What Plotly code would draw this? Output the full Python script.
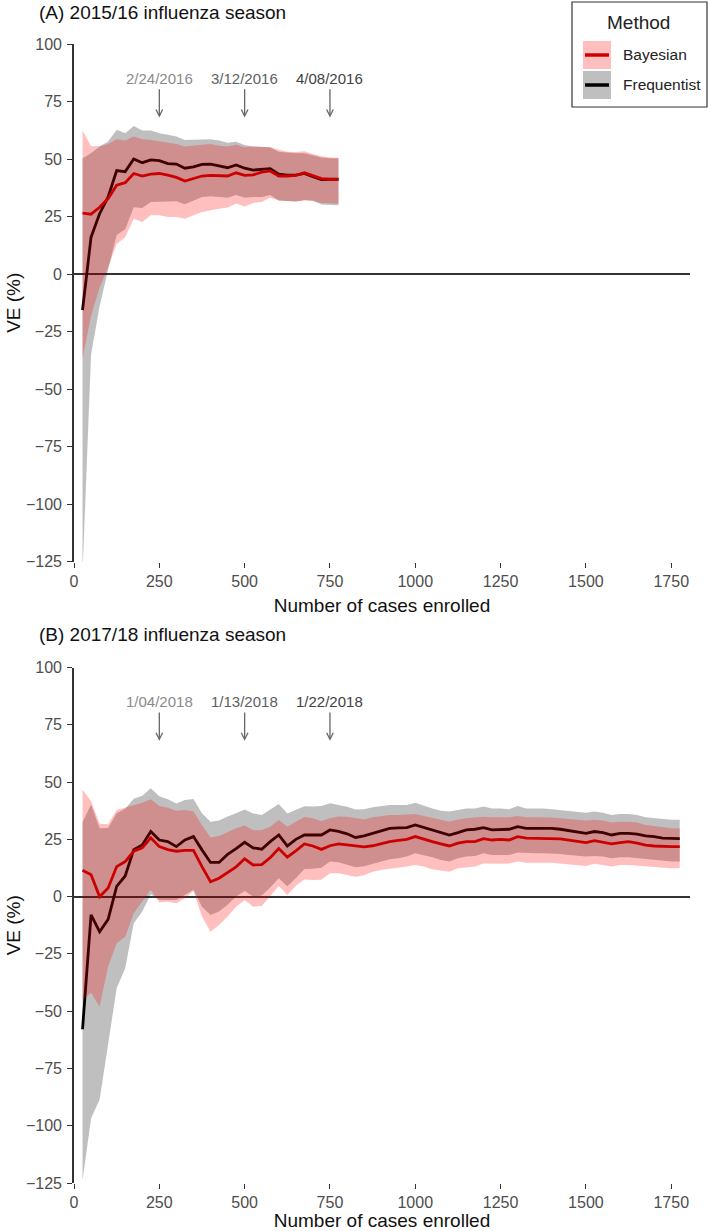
import plotly.graph_objects as go

# ---------------- data ----------------
CASES_A = [25, 50, 75, 100, 125, 150, 175, 200, 225, 250, 275, 300, 325, 350, 375, 400,
           425, 450, 475, 500, 525, 550, 575, 600, 625, 650, 675, 700, 725, 750, 775]

A_FREQ_EST = [-15.7, 16.0, 26.2, 33.5, 45.0, 44.5, 50.0, 48.4, 49.6, 49.3, 48.0, 47.8, 46.0, 46.6,
              47.7, 47.8, 47.0, 46.2, 47.4, 46.0, 45.2, 45.6, 45.8, 43.4, 43.0, 43.0, 43.7, 42.3,
              41.1, 41.2, 41.2]
A_FREQ_LO = [-130.0, -35.0, -14.0, 2.0, 17.0, 19.5, 29.0, 28.7, 31.3, 31.6, 31.6, 31.6, 30.3, 32.0,
             33.5, 33.8, 33.5, 33.2, 34.3, 33.2, 33.5, 33.5, 34.3, 32.0, 31.6, 31.5, 32.2, 31.9,
             30.2, 29.9, 29.9]
A_FREQ_HI = [50.3, 52.5, 55.4, 57.6, 62.7, 61.2, 64.4, 62.4, 62.4, 61.2, 60.5, 59.8, 58.3, 58.3,
             58.6, 58.6, 58.0, 57.1, 57.5, 56.1, 55.4, 55.4, 55.1, 53.2, 52.8, 52.5, 52.5, 51.7,
             50.7, 50.3, 50.3]
A_BAYES_EST = [26.5, 26.0, 29.0, 32.8, 38.6, 39.7, 43.7, 42.6, 43.4, 43.7, 43.0, 42.0, 40.4, 41.5,
               42.6, 42.9, 42.9, 42.6, 44.0, 42.9, 43.1, 44.3, 44.8, 42.6, 42.6, 42.9, 44.0, 42.7,
               41.5, 41.1, 41.1]
A_BAYES_LO = [-37.0, -18.0, -6.0, 3.0, 13.0, 16.0, 24.0, 22.6, 25.5, 25.5, 24.8, 24.8, 24.0, 25.5,
              27.0, 27.7, 28.4, 28.9, 30.6, 29.4, 30.9, 31.3, 33.2, 32.0, 31.6, 31.5, 32.0, 31.8,
              30.9, 30.6, 30.6]
A_BAYES_HI = [62.4, 55.5, 55.5, 56.5, 58.6, 58.0, 59.8, 58.6, 58.3, 57.8, 57.2, 56.5, 55.4, 55.8,
              56.2, 56.5, 55.8, 55.4, 56.2, 55.1, 55.4, 55.1, 55.1, 54.0, 53.2, 53.0, 53.4, 52.2,
              51.2, 50.6, 50.5]

CASES_B = [25, 50, 75, 100, 125, 150, 175, 200, 225, 250, 275, 300, 325, 350, 375, 400, 425, 450,
           475, 500, 525, 550, 575, 600, 625, 650, 675, 700, 725, 750, 775, 800, 825, 850, 875,
           900, 925, 950, 975, 1000, 1025, 1050, 1075, 1100, 1125, 1150, 1175, 1200, 1225, 1250,
           1275, 1300, 1325, 1350, 1375, 1400, 1425, 1450, 1475, 1500, 1525, 1550, 1575, 1600,
           1625, 1650, 1675, 1700, 1725, 1750, 1775]

B_FREQ_EST = [-57.9, -8.0, -15.3, -9.9, 4.5, 9.0, 20.5, 22.5, 28.4, 24.7,
              24.0, 21.8, 24.7, 26.2, 20.4, 14.9, 14.9, 18.4, 20.9, 23.7,
              21.3, 20.7, 24.0, 26.9, 22.1, 25.0, 26.9, 26.9, 26.9, 29.1,
              28.5, 27.4, 25.8, 26.5, 27.6, 28.7, 29.8, 30.0, 30.1, 31.3,
              30.2, 28.8, 27.9, 26.9, 27.9, 29.1, 29.4, 30.1, 29.1, 29.4,
              29.4, 30.5, 29.8, 29.8, 29.8, 29.8, 29.4, 28.8, 28.2, 27.6,
              28.4, 27.9, 26.9, 27.6, 27.6, 27.3, 26.5, 26.2, 25.5, 25.3,
              25.3]
B_FREQ_LO = [-124.0, -96.7, -88.7, -65.4, -40.0, -31.3, -11.6, -6.5, 1.0, -1.5,
             -1.5, -1.5, 0.7, 3.0, -4.4, -8.0, -6.5, -3.6, 0.0, 2.5,
             0.0, 0.5, 4.0, 8.0, 4.5, 8.0, 12.0, 12.2, 12.6, 15.3,
             15.0, 13.8, 12.8, 13.2, 14.3, 15.3, 16.3, 16.7, 17.5, 18.9,
             18.2, 17.2, 16.0, 15.3, 16.7, 17.5, 17.7, 18.9, 18.2, 18.2,
             18.2, 19.2, 18.9, 18.9, 18.9, 18.9, 18.6, 18.2, 17.7, 17.5,
             17.7, 17.5, 16.7, 17.2, 17.2, 16.7, 16.3, 16.0, 15.7, 15.3,
             15.3]
B_FREQ_HI = [32.5, 40.2, 29.8, 30.0, 36.4, 38.3, 42.7, 44.0, 47.3, 43.8,
             42.5, 40.6, 42.2, 42.6, 36.4, 32.7, 33.2, 35.0, 36.4, 38.0,
             36.3, 35.6, 38.0, 40.4, 36.3, 37.8, 39.4, 39.3, 39.6, 40.7,
             40.0, 39.2, 38.0, 38.1, 39.0, 39.6, 40.0, 40.0, 40.0, 41.0,
             39.6, 38.5, 37.5, 37.1, 37.8, 38.5, 38.5, 39.3, 38.5, 38.5,
             38.1, 39.6, 38.5, 38.5, 38.5, 38.1, 37.8, 37.5, 37.1, 36.6,
             37.1, 36.6, 35.6, 36.1, 36.1, 35.6, 34.6, 34.2, 33.7, 33.5,
             33.5]
B_BAYES_EST = [11.5, 9.5, 0.0, 3.8, 13.1, 15.3, 19.8, 21.3, 25.7, 21.8,
               20.5, 19.8, 20.2, 20.2, 13.1, 6.5, 8.0, 10.5, 13.0, 16.5,
               13.8, 14.0, 17.0, 21.0, 17.2, 20.0, 23.0, 22.1, 20.6, 22.2,
               23.0, 22.6, 22.2, 21.7, 22.2, 23.2, 24.0, 24.5, 25.0, 26.2,
               25.0, 24.0, 23.0, 22.1, 23.3, 24.0, 24.0, 25.3, 24.7, 25.0,
               24.7, 26.2, 25.5, 25.5, 25.5, 25.5, 25.2, 24.7, 24.0, 23.6,
               24.4, 23.6, 23.0, 23.6, 24.0, 23.3, 22.5, 22.1, 21.8, 21.8,
               21.8]
B_BAYES_LO = [-45.0, -42.0, -48.0, -30.5, -20.4, -17.5, -7.3, -2.2, 3.0, -2.5,
              -2.2, -2.9, -0.7, 2.5, -8.7, -15.3, -12.4, -8.7, -4.4, -1.5,
              -4.4, -4.1, 0.3, 4.6, 0.7, 4.7, 7.5, 7.3, 7.4, 10.2,
              10.2, 9.5, 8.7, 9.3, 10.9, 11.6, 12.4, 12.6, 13.1, 13.8,
              13.1, 11.9, 11.3, 10.9, 12.4, 12.8, 13.1, 14.5, 14.3, 14.3,
              14.5, 15.3, 14.8, 14.8, 14.8, 14.8, 14.5, 14.3, 13.8, 13.4,
              14.3, 13.8, 13.1, 13.8, 13.8, 13.4, 13.1, 12.8, 12.7, 12.4,
              12.4]
B_BAYES_HI = [46.6, 41.6, 31.8, 31.6, 37.8, 38.8, 40.0, 41.0, 42.5, 39.5,
              38.8, 37.5, 37.8, 37.2, 31.2, 25.8, 26.5, 28.3, 29.8, 31.0,
              29.0, 29.0, 30.5, 33.4, 30.5, 32.7, 34.7, 34.2, 33.0, 34.2,
              35.0, 34.9, 34.2, 33.7, 34.6, 35.2, 35.6, 35.6, 35.8, 36.1,
              35.2, 34.2, 33.5, 32.7, 33.7, 34.2, 34.6, 34.9, 34.6, 34.6,
              34.6, 35.2, 34.6, 34.6, 34.6, 34.5, 34.2, 33.7, 33.5, 33.2,
              33.5, 33.2, 32.3, 32.7, 32.7, 32.3, 31.3, 30.8, 30.3, 29.8,
              29.8]

X_TICKS = [0, 250, 500, 750, 1000, 1250, 1500, 1750]
Y_TICKS = [-125, -100, -75, -50, -25, 0, 25, 50, 75, 100]

MARK_X = [250, 500, 750]
MARK_LABELS_A = ["2/24/2016", "3/12/2016", "4/08/2016"]
MARK_LABELS_B = ["1/04/2018", "1/13/2018", "1/22/2018"]
MARK_LABEL_Y = 85
MARK_ARROW_FROM = 81
MARK_ARROW_TO = 68

PANEL_TITLES = ["(A) 2015/16 influenza season", "(B) 2017/18 influenza season"]
METHODS = ["Bayesian", "Frequentist"]

# ---------------- style ----------------
FONT = "Liberation Sans, Arial, Helvetica, sans-serif"
GREY_FILL = "rgba(0,0,0,0.25)"
PINK_FILL = "rgba(255,0,0,0.25)"
RED_LINE = "#BB0000"
BLACK_LINE = "#000000"
MARK_TEXT_COLORS = ["#8a8a8a", "#606060", "#424242"]
ARROW_COLOR = "#666666"

W, H = 709, 1231
ML, MR, MT, MB = 74, 19, 44, 48
PW = W - ML - MR
PH = H - MT - MB


def px_x(p):
    return (p - ML) / PW


def px_y(p):
    return (H - MB - p) / PH


A_DOMAIN = [px_y(561.5), 1.0]
B_DOMAIN = [0.0, px_y(667.5)]

fig = go.Figure()


def add_panel(xs, f_lo, f_hi, f_est, b_lo, b_hi, b_est, xa, ya):
    common = dict(xaxis=xa, yaxis=ya, showlegend=False, hoverinfo="skip")
    fig.add_trace(go.Scatter(x=xs + xs[::-1], y=f_hi + f_lo[::-1], mode="lines",
                             fill="toself", fillcolor=GREY_FILL, line=dict(width=0), **common))
    fig.add_trace(go.Scatter(x=xs, y=f_est, mode="lines",
                             line=dict(color=BLACK_LINE, width=2.8), **common))
    fig.add_trace(go.Scatter(x=xs, y=b_est, mode="lines",
                             line=dict(color=RED_LINE, width=2.8), **common))
    fig.add_trace(go.Scatter(x=xs + xs[::-1], y=b_hi + b_lo[::-1], mode="lines",
                             fill="toself", fillcolor=PINK_FILL, line=dict(width=0), **common))


add_panel(CASES_A, A_FREQ_LO, A_FREQ_HI, A_FREQ_EST, A_BAYES_LO, A_BAYES_HI, A_BAYES_EST, "x", "y")
add_panel(CASES_B, B_FREQ_LO, B_FREQ_HI, B_FREQ_EST, B_BAYES_LO, B_BAYES_HI, B_BAYES_EST, "x2", "y2")

tickfont = dict(family=FONT, size=16, color="#4d4d4d")
titlefont = dict(family=FONT, size=19, color="#111111")


def xaxis_cfg(anchor):
    return dict(domain=[0, 1], anchor=anchor, range=[0, 1805], tickmode="array", tickvals=X_TICKS,
                ticks="outside", ticklen=5, tickwidth=1.4, tickcolor="#333333",
                showline=False, showgrid=False, zeroline=False, tickfont=tickfont,
                ticklabelstandoff=0,
                title=dict(text="Number of cases enrolled", font=titlefont, standoff=9))


def yaxis_cfg(anchor, domain):
    return dict(domain=domain, anchor=anchor, range=[-125, 100], tickmode="array", tickvals=Y_TICKS,
                ticks="outside", ticklen=5, tickwidth=1.4, tickcolor="#333333",
                showline=True, linecolor="#333333", linewidth=1.6, showgrid=False,
                zeroline=True, zerolinecolor="#333333", zerolinewidth=1.5,
                tickfont=tickfont, ticklabelstandoff=2,
                title=dict(text="VE (%)", font=titlefont, standoff=0))


annotations = []
shapes = []

# date markers
for labels, xr, yr in [(MARK_LABELS_A, "x", "y"), (MARK_LABELS_B, "x2", "y2")]:
    for xv, lab, col in zip(MARK_X, labels, MARK_TEXT_COLORS):
        annotations.append(dict(x=xv, y=MARK_LABEL_Y, xref=xr, yref=yr, text=lab, showarrow=False,
                                font=dict(family=FONT, size=15, color=col),
                                xanchor="center", yanchor="middle"))
        annotations.append(dict(x=xv, y=MARK_ARROW_TO, ax=xv, ay=MARK_ARROW_FROM, xref=xr, yref=yr,
                                axref=xr, ayref=yr, text="", showarrow=True, arrowhead=5,
                                arrowsize=1.0, arrowwidth=1.3, arrowcolor=ARROW_COLOR))

# panel titles
for title, py in zip(PANEL_TITLES, [12.5, 634]):
    annotations.append(dict(x=px_x(37), y=px_y(py), xref="paper", yref="paper", text=title,
                            showarrow=False, xanchor="left", yanchor="middle",
                            font=dict(family=FONT, size=19, color="#111111")))

# legend (drawn by hand)
shapes.append(dict(type="rect", xref="paper", yref="paper",
                   x0=px_x(572), x1=px_x(707), y0=px_y(107), y1=px_y(2),
                   line=dict(color="#333333", width=1.2), fillcolor="white", layer="above"))
annotations.append(dict(x=px_x(638), y=px_y(23), xref="paper", yref="paper", text="Method",
                        showarrow=False, xanchor="center", yanchor="middle",
                        font=dict(family=FONT, size=19, color="#222222")))
key_fill = ["#FFBFBF", "#BFBFBF"]
key_line = ["#CC0000", "#000000"]
for i, (m, kf, kl) in enumerate(zip(METHODS, key_fill, key_line)):
    top = 41 + i * 30
    shapes.append(dict(type="rect", xref="paper", yref="paper",
                       x0=px_x(583), x1=px_x(611), y0=px_y(top + 28), y1=px_y(top),
                       line=dict(width=0), fillcolor=kf, layer="above"))
    shapes.append(dict(type="line", xref="paper", yref="paper",
                       x0=px_x(585), x1=px_x(609), y0=px_y(top + 14), y1=px_y(top + 14),
                       line=dict(color=kl, width=3.5), layer="above"))
    annotations.append(dict(x=px_x(621), y=px_y(top + 14), xref="paper", yref="paper", text=m,
                            showarrow=False, xanchor="left", yanchor="middle",
                            font=dict(family=FONT, size=15.5, color="#222222")))

fig.update_layout(
    width=W, height=H,
    margin=dict(l=ML, r=MR, t=MT, b=MB, autoexpand=False),
    paper_bgcolor="white", plot_bgcolor="white",
    showlegend=False,
    font=dict(family=FONT),
    xaxis=xaxis_cfg("y"), yaxis=yaxis_cfg("x", A_DOMAIN),
    xaxis2=xaxis_cfg("y2"), yaxis2=yaxis_cfg("x2", B_DOMAIN),
    annotations=annotations, shapes=shapes,
)

fig.write_html("out.html",
               config={"displayModeBar": False},
               post_script="document.body.style.margin='0px';document.body.style.overflow='hidden';")
